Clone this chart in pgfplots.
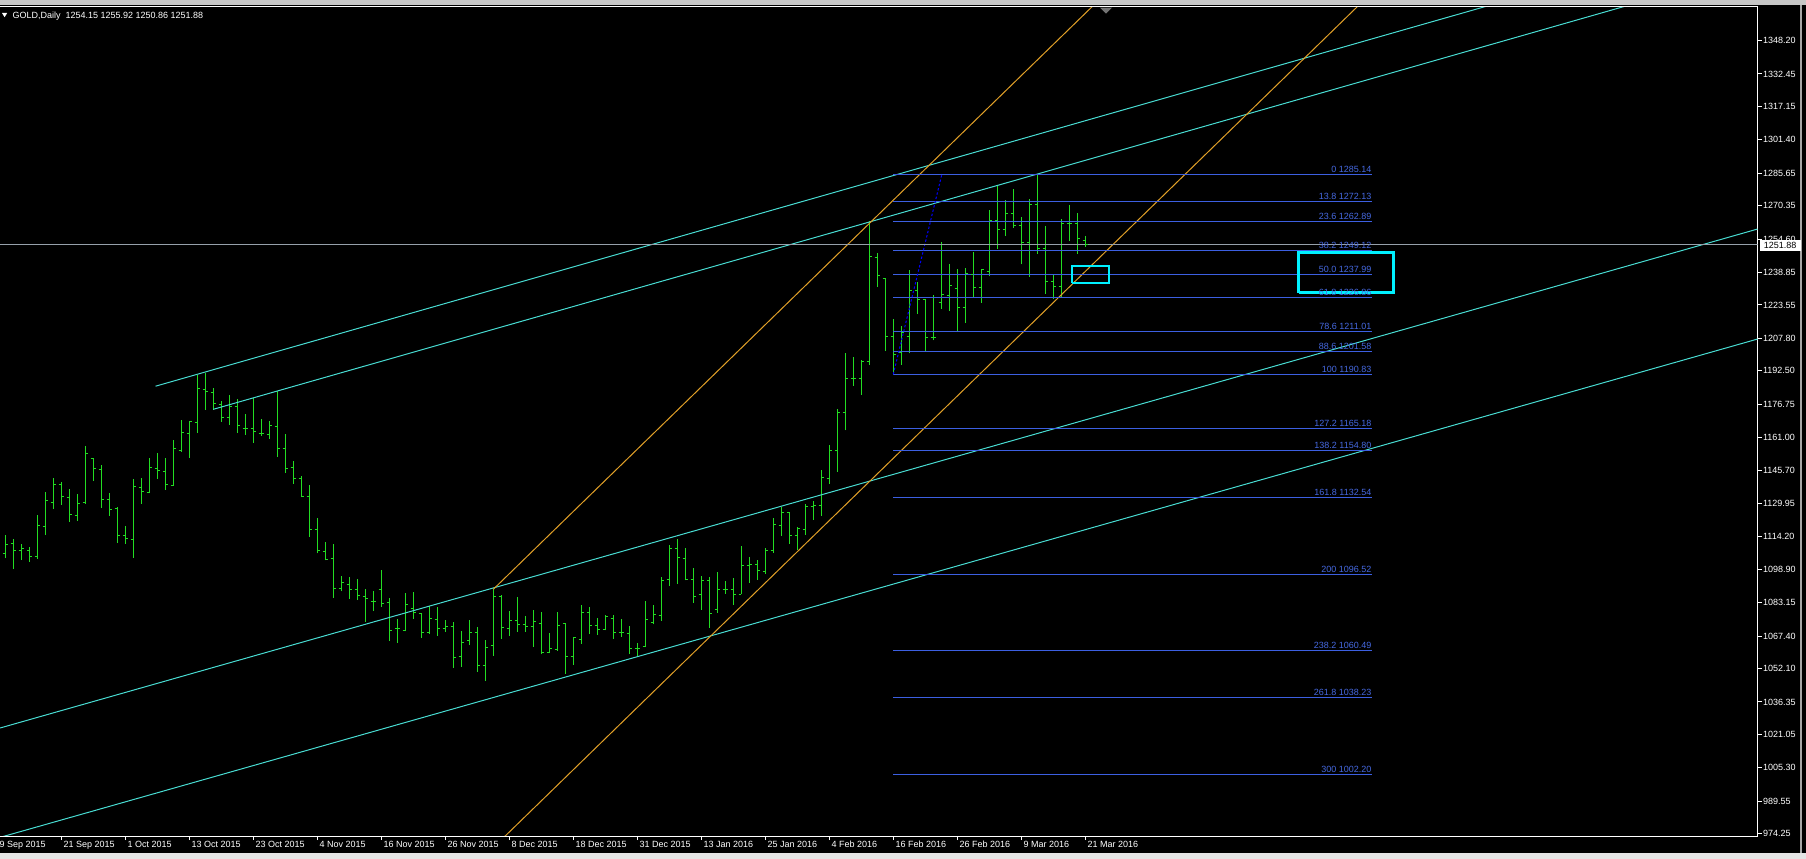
\documentclass[border=0pt]{standalone}
\usepackage{pgfplots}
\pgfplotsset{compat=1.18}
\usepackage{pgfplotstable}
\usepackage{fontspec}
\newfontfamily\lib{Liberation Sans}
\newcommand\af{\lib\fontsize{4.5bp}{5bp}\selectfont}

\definecolor{barc}{RGB}{34,221,34}
\definecolor{cyanl}{RGB}{72,220,210}
\definecolor{orgl}{RGB}{225,160,40}
\definecolor{fibl}{RGB}{60,95,225}
\definecolor{fibt}{RGB}{70,105,225}
\definecolor{pricel}{RGB}{150,160,170}
\definecolor{boxc}{RGB}{0,240,255}

% open tick to the left, close tick to the right
\pgfdeclareplotmark{otick}{\pgfpathmoveto{\pgfqpoint{-1.3bp}{0pt}}\pgfpathlineto{\pgfqpoint{0pt}{0pt}}\pgfusepathqstroke}
\pgfdeclareplotmark{ctick}{\pgfpathmoveto{\pgfqpoint{0pt}{0pt}}\pgfpathlineto{\pgfqpoint{1.3bp}{0pt}}\pgfusepathqstroke}

% daily bars, k = bar index (0 = 10 Sep 2015, 135 = 21 Mar 2016)
\pgfplotstableread{
k o h l c
0 1106.41 1115.05 1104.05 1110.65
1 1111.12 1113.17 1099.00 1107.82
2 1107.82 1110.81 1103.26 1108.77
3 1107.82 1109.39 1102.48 1104.99
4 1104.99 1124.48 1103.89 1119.61
5 1119.14 1135.33 1115.05 1131.40
6 1130.46 1141.93 1127.47 1138.94
7 1138.94 1140.05 1129.36 1133.29
8 1132.81 1136.74 1121.34 1124.80
9 1124.33 1134.39 1121.81 1129.98
10 1130.46 1157.02 1129.83 1153.56
11 1151.20 1151.36 1140.67 1146.49
12 1146.02 1148.06 1127.94 1131.87
13 1131.87 1134.86 1124.17 1127.16
14 1127.63 1128.26 1111.44 1114.90
15 1114.90 1119.30 1110.97 1113.48
16 1113.01 1141.46 1104.36 1138.00
17 1137.53 1141.93 1129.83 1135.64
18 1135.17 1151.36 1134.70 1146.96
19 1146.49 1153.72 1141.62 1145.55
20 1145.07 1151.36 1136.43 1138.94
21 1138.47 1159.85 1138.32 1155.92
22 1155.13 1169.28 1154.35 1163.62
23 1163.15 1168.81 1151.52 1168.65
24 1168.18 1190.65 1163.30 1184.21
25 1183.74 1191.60 1174.15 1182.80
26 1182.32 1184.37 1174.15 1177.14
27 1176.67 1178.24 1168.49 1170.54
28 1170.54 1181.07 1167.08 1175.88
29 1175.72 1179.02 1163.30 1166.76
30 1165.35 1172.11 1162.36 1165.35
31 1165.35 1179.49 1158.59 1163.93
32 1163.15 1169.59 1161.89 1163.15
33 1162.52 1168.81 1160.48 1166.76
34 1166.29 1182.95 1151.99 1155.92
35 1155.92 1162.68 1144.44 1146.33
36 1146.96 1149.94 1139.26 1141.93
37 1141.93 1142.87 1132.81 1133.28
38 1133.28 1138.63 1114.26 1117.72
39 1117.72 1123.07 1106.41 1107.66
40 1107.35 1111.75 1103.10 1103.58
41 1104.05 1110.96 1085.50 1089.90
42 1089.90 1095.72 1088.49 1092.42
43 1091.79 1095.25 1085.03 1089.43
44 1089.43 1094.30 1084.40 1086.29
45 1086.13 1089.58 1074.18 1085.18
46 1083.77 1088.64 1079.37 1083.77
47 1089.43 1098.54 1081.25 1082.83
48 1083.30 1085.18 1065.22 1070.09
49 1070.88 1075.44 1064.28 1070.88
50 1070.09 1087.86 1069.62 1082.35
51 1080.47 1088.17 1075.60 1078.42
52 1078.11 1078.27 1066.64 1069.15
53 1069.15 1081.41 1068.37 1075.75
54 1075.28 1081.25 1067.58 1071.04
55 1071.04 1074.97 1069.47 1071.82
56 1071.98 1074.02 1052.49 1057.36
57 1057.83 1069.78 1052.96 1064.44
58 1065.38 1074.97 1063.18 1069.31
59 1069.15 1071.67 1050.60 1053.59
60 1053.59 1065.54 1046.36 1062.08
61 1063.02 1089.58 1058.15 1086.13
62 1086.13 1086.76 1066.16 1071.51
63 1071.04 1079.37 1067.58 1074.81
64 1074.81 1085.81 1069.47 1072.92
65 1072.92 1076.85 1069.47 1072.14
66 1071.98 1079.68 1062.39 1074.50
67 1073.39 1078.58 1058.78 1059.72
68 1059.57 1068.84 1059.26 1061.46
69 1060.99 1078.75 1060.51 1072.46
70 1073.09 1073.40 1049.51 1057.69
71 1057.69 1067.12 1053.76 1066.49
72 1065.86 1081.89 1063.66 1078.59
73 1078.59 1081.11 1068.37 1072.30
74 1072.30 1075.92 1068.06 1070.57
75 1070.57 1077.33 1070.10 1076.39
76 1075.76 1077.33 1066.17 1069.00
77 1068.85 1075.45 1067.12 1069.00
78 1068.69 1072.15 1058.94 1061.61
79 1061.61 1064.29 1058.00 1061.61
80 1062.40 1083.93 1062.09 1074.98
81 1073.87 1082.05 1072.93 1077.65
82 1077.02 1095.25 1074.66 1093.68
83 1094.15 1110.34 1091.17 1108.77
84 1108.77 1113.01 1092.11 1104.53
85 1104.05 1108.93 1093.68 1094.15
86 1094.15 1099.50 1083.15 1086.13
87 1086.92 1095.57 1079.69 1093.68
88 1093.68 1095.41 1071.36 1078.12
89 1079.69 1097.77 1078.43 1089.12
90 1089.12 1093.36 1087.39 1089.12
91 1089.12 1094.78 1082.05 1087.08
92 1087.08 1109.87 1087.08 1100.75
93 1100.75 1104.68 1092.42 1101.22
94 1101.22 1103.27 1093.99 1098.08
95 1097.61 1108.77 1096.82 1107.98
96 1107.67 1123.07 1106.72 1119.77
97 1119.61 1128.10 1114.74 1125.43
98 1125.74 1125.74 1110.97 1115.05
99 1115.05 1118.67 1107.98 1118.35
100 1117.73 1129.67 1115.21 1128.41
101 1128.41 1130.93 1122.28 1129.04
102 1129.04 1145.70 1124.17 1142.25
103 1141.93 1157.49 1139.26 1155.13
104 1155.13 1174.31 1144.92 1172.90
105 1172.90 1200.87 1164.41 1188.77
106 1188.77 1198.99 1185.47 1188.77
107 1188.77 1197.42 1181.23 1197.10
108 1197.10 1263.12 1195.37 1246.30
109 1245.83 1248.03 1232.15 1237.50
110 1236.08 1236.08 1201.97 1208.89
111 1208.74 1216.91 1190.83 1200.25
112 1201.03 1213.61 1195.22 1210.47
113 1208.58 1240.02 1200.72 1230.58
114 1230.58 1234.20 1219.27 1226.18
115 1226.18 1226.18 1201.82 1208.26
116 1208.26 1228.07 1206.85 1208.26
117 1224.61 1253.22 1221.63 1228.54
118 1227.91 1242.84 1220.68 1232.78
119 1231.37 1240.49 1211.25 1222.41
120 1222.41 1240.96 1215.18 1238.13
121 1237.97 1248.50 1226.97 1231.68
122 1231.68 1240.02 1224.61 1240.02
123 1239.54 1268.15 1237.03 1263.44
124 1263.12 1279.78 1249.92 1259.19
125 1259.19 1272.87 1256.21 1266.89
126 1266.74 1278.05 1259.98 1261.08
127 1261.08 1265.01 1242.69 1252.90
128 1252.90 1273.34 1236.87 1270.67
129 1270.67 1285.14 1247.72 1250.07
130 1250.07 1260.61 1228.70 1234.51
131 1234.51 1237.66 1226.34 1232.16
132 1232.16 1264.06 1226.97 1261.71
133 1261.71 1270.67 1253.85 1261.71
134 1261.71 1266.89 1247.72 1254.95
135 1254.15 1255.92 1250.86 1251.88
}\bars

% fibonacci levels
\pgfplotstableread{
pr lab
1285.14 0~1285.14
1272.13 13.8~1272.13
1262.89 23.6~1262.89
1249.12 38.2~1249.12
1237.99 50.0~1237.99
1226.86 61.8~1226.86
1211.01 78.6~1211.01
1201.58 88.6~1201.58
1190.83 100~1190.83
1165.18 127.2~1165.18
1154.80 138.2~1154.80
1132.54 161.8~1132.54
1096.52 200~1096.52
1060.49 238.2~1060.49
1038.23 261.8~1038.23
1002.20 300~1002.20
}\fib

\begin{document}
\begin{tikzpicture}
\path[use as bounding box, fill=black] (0,-11.5bp) rectangle (903bp,418bp);
\fill[black!22] (0,415.3bp) rectangle (903bp,418bp);
\fill[black!10] (0,-11.5bp) rectangle (903bp,-8.5bp);
\fill[black!35] (900bp,-8.5bp) rectangle (901bp,415.3bp);
\begin{axis}[
    at={(0,0)}, anchor=south west,
    width=878.85bp, height=414.5bp, scale only axis,
    xmin=-0.6625, xmax=219.05, ymin=973.12, ymax=1364.03,
    axis x line*=bottom, axis y line*=right,
    axis line style={white, line width=0.5bp},
    tick align=outside, major tick length=2bp,
    tick style={white, line width=0.5bp},
    xtick={7,15,...,135},
    xticklabels={21 Sep 2015, 1 Oct 2015, 13 Oct 2015, 23 Oct 2015, 4 Nov 2015,
        16 Nov 2015, 26 Nov 2015, 8 Dec 2015, 18 Dec 2015, 31 Dec 2015,
        13 Jan 2016, 25 Jan 2016, 4 Feb 2016, 16 Feb 2016, 26 Feb 2016,
        9 Mar 2016, 21 Mar 2016},
    xticklabel style={font=\af, text=white, anchor=north west, inner sep=0pt, xshift=1bp, yshift=-0.5bp},
    ytick={974.25,989.55,1005.30,1021.05,1036.35,1052.10,1067.40,1083.15,1098.90,
        1114.20,1129.95,1145.70,1161.00,1176.75,1192.50,1207.80,1223.55,1238.85,
        1254.60,1270.35,1285.65,1301.40,1317.15,1332.45,1348.20},
    yticklabels={974.25,989.55,1005.30,1021.05,1036.35,1052.10,1067.40,1083.15,1098.90,
        1114.20,1129.95,1145.70,1161.00,1176.75,1192.50,1207.80,1223.55,1238.85,
        1254.60,1270.35,1285.65,1301.40,1317.15,1332.45,1348.20},
    yticklabel style={font=\af, text=white, anchor=west, inner sep=0pt, xshift=0.5bp},
]
% high-low lines
\addplot[barc, line width=0.5bp, quiver={u=0, v=\thisrow{h}-\thisrow{l}}]
    table[x=k, y=l] {\bars};
% open and close ticks
\addplot[barc, line width=0.5bp, only marks, mark=otick] table[x=k, y=o] {\bars};
\addplot[barc, line width=0.5bp, only marks, mark=ctick] table[x=k, y=c] {\bars};

% channels
\addplot[cyanl, line width=0.5bp] coordinates {(18.775,1185.22) (186,1365.32)};
\addplot[cyanl, line width=0.5bp] coordinates {(26,1174.33) (205,1367.11)};
\addplot[cyanl, line width=0.5bp] coordinates {(-0.6625,1024.04) (219.05,1259.35)};
\addplot[cyanl, line width=0.5bp] coordinates {(-0.6625,972.46) (219.05,1207.48)};
\addplot[orgl, line width=0.5bp] coordinates {(61,1089.45) (137,1368.4)};
\addplot[orgl, line width=0.5bp] coordinates {(60,963.99) (170,1367.84)};

% fibonacci
\addplot[fibl, line width=0.5bp, quiver={u=59.8, v=0}] table[x expr=111, y=pr] {\fib};
\addplot[draw=none, mark=none, point meta=explicit symbolic,
    nodes near coords,
    nodes near coords style={anchor=south east, inner sep=0pt, yshift=0.9bp, font=\af, text=fibt}]
    table[x expr=170.8, y=pr, meta=lab] {\fib};
\addplot[blue, line width=0.5bp, dash pattern=on 1.2bp off 1bp] coordinates {(111,1190.83) (117.05,1284.81)};

% current price
\addplot[pricel, line width=0.5bp] coordinates {(-1,1251.88) (220,1251.88)};

% boxes
\addplot[boxc, line width=1bp] coordinates {(133.3,1233.88) (137.9,1233.88) (137.9,1241.76) (133.3,1241.76) (133.3,1233.88)};
\addplot[boxc, line width=1.5bp] coordinates {(161.7,1229.31) (173.5,1229.31) (173.5,1248.03) (161.7,1248.03) (161.7,1229.31)};

\coordinate (t0) at (axis cs:-1,973.12);
\coordinate (pl) at (axis cs:219.05,1251.88);
\end{axis}
\draw[white, line width=0.5bp] (0,414.5bp) -- (879.1bp,414.5bp);
\fill[black!55] (550bp,414.2bp) -- (556bp,414.2bp) -- (553bp,411.2bp) -- cycle;
\node[anchor=north west, inner sep=0pt, font=\af, text=white] at ([xshift=1bp,yshift=-2.5bp]t0) {9 Sep 2015};
\node[anchor=west, fill=white, text=black, font=\af, inner sep=0pt,
    minimum width=20.4bp, minimum height=5.2bp] at ([xshift=0.8bp,yshift=-0.4bp]pl) {1251.88};
\fill[white] (1bp,411.5bp) -- (3.6bp,411.5bp) -- (2.3bp,409.4bp) -- cycle;
\node[anchor=base west, inner sep=0pt, font=\af, text=white] at (6.1bp,408.5bp)
    {GOLD,Daily\ \ 1254.15 1255.92 1250.86 1251.88};
\end{tikzpicture}
\end{document}
